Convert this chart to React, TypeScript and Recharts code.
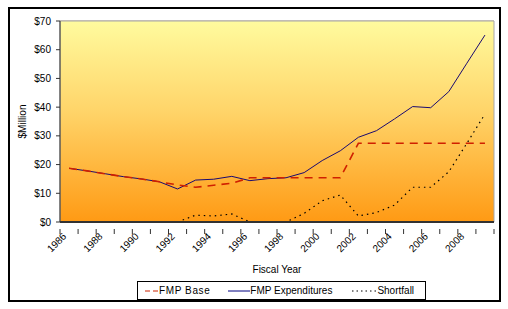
import React from "react";
import {
  LineChart, Line, XAxis, YAxis, CartesianGrid, Legend, ReferenceArea, ReferenceLine,
} from "recharts";

const years = [
  1986, 1987, 1988, 1989, 1990, 1991, 1992, 1993, 1994, 1995, 1996, 1997,
  1998, 1999, 2000, 2001, 2002, 2003, 2004, 2005, 2006, 2007, 2008, 2009,
];
const fmpBase = [
  18.7, 17.8, 16.8, 15.8, 15.0, 14.0, 12.9, 12.1, 12.8, 13.5, 15.4, 15.4,
  15.4, 15.4, 15.4, 15.4, 27.4, 27.4, 27.4, 27.4, 27.4, 27.4, 27.4, 27.4,
];
const fmpExpenditures = [
  18.7, 17.8, 16.8, 15.8, 15.0, 14.0, 11.5, 14.6, 14.9, 15.9, 14.4, 15.1,
  15.4, 17.2, 21.4, 24.8, 29.5, 31.8, 35.9, 40.2, 39.8, 45.4, 55.3, 65.1,
];
const shortfall = [
  null, null, null, null, null, null, 0, 2.4, 2.1, 2.8, 0, 0,
  0, 3.0, 7.4, 9.4, 2.1, 3.3, 5.9, 12.1, 12.1, 17.5, 27.4, 37.6,
];
const yTicks = [0, 10, 20, 30, 40, 50, 60, 70];
const labelYears = [1986, 1988, 1990, 1992, 1994, 1996, 1998, 2000, 2002, 2004, 2006, 2008];

const data = years.map((y, i) => ({
  year: y,
  base: fmpBase[i],
  exp: fmpExpenditures[i],
  short: shortfall[i],
}));

// tick marks sit between categories, labels sit on even years
const boundaryTicks = [...years.map((y) => y - 0.5), years[years.length - 1] + 0.5];
const xTicks = [...boundaryTicks, ...labelYears].sort((a, b) => a - b);

const FONT = "'Liberation Sans', Arial, sans-serif";

function XTick(props: any) {
  const { x, y, payload } = props;
  const v = payload.value;
  if (!Number.isInteger(v)) {
    return <line x1={x} y1={y - 1} x2={x} y2={y + 4} stroke="#333" strokeWidth={1} />;
  }
  if (!labelYears.includes(v)) return null;
  return (
    <text
      x={x - 2}
      y={y + 7}
      textAnchor="end"
      fontSize={10}
      fontFamily={FONT}
      fill="#000"
      transform={`rotate(-45, ${x - 2}, ${y + 7})`}
    >
      {v}
    </text>
  );
}

function LegendBox() {
  const item = { display: "flex", alignItems: "center" } as const;
  return (
    <div
      style={{
        boxSizing: "border-box",
        height: 19,
        width: 289,
        border: "1px solid #000",
        background: "#fff",
        display: "flex",
        alignItems: "center",
        fontFamily: FONT,
        fontSize: 10,
        color: "#000",
        paddingLeft: 7,
      }}
    >
      <span style={item}>
        <svg width={14} height={6}>
          <line x1={0} y1={3} x2={14} y2={3} stroke="#cc2200" strokeWidth={1} strokeDasharray="5 3" />
        </svg>
        <span style={{ letterSpacing: 0.6 }}>FMP Base</span>
      </span>
      <span style={{ ...item, marginLeft: 18 }}>
        <svg width={22} height={6}>
          <line x1={0} y1={3} x2={22} y2={3} stroke="#000080" strokeWidth={1} />
        </svg>
        <span>FMP Expenditures</span>
      </span>
      <span style={{ ...item, marginLeft: 20 }}>
        <svg width={25} height={6}>
          <line x1={0} y1={3} x2={25} y2={3} stroke="#000" strokeWidth={1} strokeDasharray="1.5 3" />
        </svg>
        <span>Shortfall</span>
      </span>
    </div>
  );
}

export default function App() {
  return (
    <div style={{ position: "absolute", left: 0, top: 0, width: 508, height: 309, background: "#fff" }}>
      <div
        style={{
          position: "absolute",
          left: 8,
          top: 7,
          width: 493,
          height: 295,
          boxSizing: "border-box",
          border: "2px solid #000",
        }}
      />
      <div style={{ position: "absolute", left: 0, top: 0 }}>
        <LineChart
          width={508}
          height={309}
          data={data}
          margin={{ top: 21, right: 14, bottom: 9, left: 0 }}
        >
          <defs>
            <linearGradient id="bg" x1="0" y1="0" x2="0" y2="1">
              <stop offset="0%" stopColor="#fffb9e" />
              <stop offset="45%" stopColor="#ffd469" />
              <stop offset="100%" stopColor="#ff9a14" />
            </linearGradient>
          </defs>
          <ReferenceArea
            x1={1985.5}
            x2={2009.5}
            y1={0}
            y2={70}
            fill="url(#bg)"
            fillOpacity={1}
            stroke="#a8a8a8"
            strokeWidth={1}
            ifOverflow="visible"
          />
          <CartesianGrid vertical={false} stroke="#a08a6a" strokeOpacity={0.8} />
          <XAxis
            dataKey="year"
            type="number"
            domain={[1985.5, 2009.5]}
            ticks={xTicks}
            interval={0}
            tick={<XTick />}
            tickLine={false}
            axisLine={{ stroke: "#333" }}
            height={59}
            label={{
              value: "Fiscal Year",
              position: "insideBottom",
              offset: 8,
              fontSize: 10,
              fontFamily: FONT,
              fill: "#000",
            }}
          />
          <YAxis
            domain={[0, 70]}
            ticks={yTicks}
            width={60}
            tickSize={4}
            tickLine={{ stroke: "#333" }}
            axisLine={{ stroke: "#333" }}
            tickFormatter={(v) => `$${v}`}
            tick={{ fontSize: 10, fontFamily: FONT, fill: "#000", dx: -3 }}
            label={{
              value: "$Million",
              angle: -90,
              position: "insideLeft",
              offset: 22,
              fontSize: 10,
              fontFamily: FONT,
              fill: "#000",
              style: { textAnchor: "middle" },
            }}
          />
          <Legend
            verticalAlign="bottom"
            width={289}
            wrapperStyle={{ left: 137 }}
            content={<LegendBox />}
          />
          <Line
            dataKey="short"
            name="Shortfall"
            stroke="#000"
            strokeWidth={1.2}
            strokeDasharray="1.5 4"
            dot={false}
            isAnimationActive={false}
          />
          <Line
            dataKey="exp"
            name="FMP Expenditures"
            stroke="#1a0a70"
            strokeWidth={1}
            dot={false}
            isAnimationActive={false}
          />
          <Line
            dataKey="base"
            name="FMP Base"
            stroke="#d02000"
            strokeWidth={1.6}
            strokeDasharray="8 6"
            dot={false}
            isAnimationActive={false}
          />
          <ReferenceLine y={0} stroke="#333" strokeWidth={2} />
        </LineChart>
      </div>
    </div>
  );
}
